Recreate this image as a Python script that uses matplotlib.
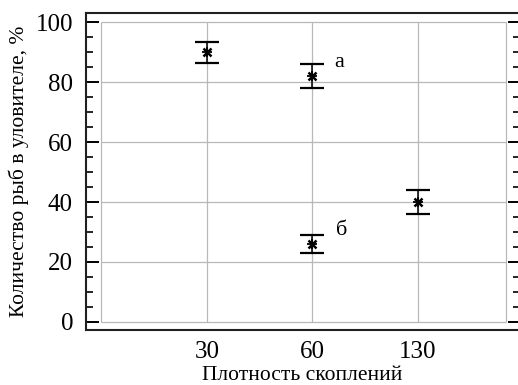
import matplotlib
matplotlib.use("Agg")
import matplotlib.pyplot as plt
from matplotlib.ticker import MultipleLocator

# data
density = ["30", "60", "130"]
pos = [1, 2, 3, 2]
values = [90, 82, 40, 26]
errors = [3.5, 4, 4, 3]
letters = ["а", "б"]
letter_xy = [(2.21, 86.7), (2.22, 30.5)]

plt.rcParams['font.family'] = ['Liberation Serif', 'DejaVu Serif']

fig = plt.figure(figsize=(5.18, 3.85), dpi=100)
ax = fig.add_axes([85.5/518, 55/385, (519.5-85.5)/518, (330-13)/385])

# inner grid box
yt = [0, 20, 40, 60, 80, 100]
ax.hlines(yt, 0, 3.83, color="#b8b8b8", lw=0.9, zorder=1)
ax.vlines([0, 1, 2, 3, 3.83], 0, 100, color="#b8b8b8", lw=0.9, zorder=1)

ax.errorbar(pos, values, yerr=errors, fmt="none", ecolor="black",
            elinewidth=1.1, capsize=8.5, capthick=1.6, zorder=3)
ax.plot(pos, values, ls="none", marker="x", ms=6, mew=1.8, color="black", zorder=4)
ax.plot(pos, values, ls="none", marker="+", ms=7, mew=1.3, color="black", zorder=4)

for t, (x, y) in zip(letters, letter_xy):
    ax.text(x, y, t, fontsize=16, ha="left", va="center")

ax.set_xlim(-0.148, 3.96)
ax.set_ylim(-2.7, 103.1)
ax.set_xticks([1, 2, 3])
ax.set_xticklabels(density)
ax.set_yticks(yt)
ax.yaxis.set_minor_locator(MultipleLocator(5))
ax.tick_params(axis="x", length=0, pad=8, labelsize=18)
ax.tick_params(axis="y", which="major", direction="in", length=9, width=1.4,
               right=True, labelsize=18, pad=9)
ax.tick_params(axis="y", which="minor", direction="in", length=5, width=1.2, right=True)

for s in ax.spines.values():
    s.set_linewidth(1.5)
    s.set_color("#202020")

ax.set_xlabel("Плотность скоплений", fontsize=15.5, labelpad=2)
ax.set_ylabel("Количество рыб в уловителе, %", fontsize=15.5, labelpad=5)

fig.savefig("out.png", dpi=100)
